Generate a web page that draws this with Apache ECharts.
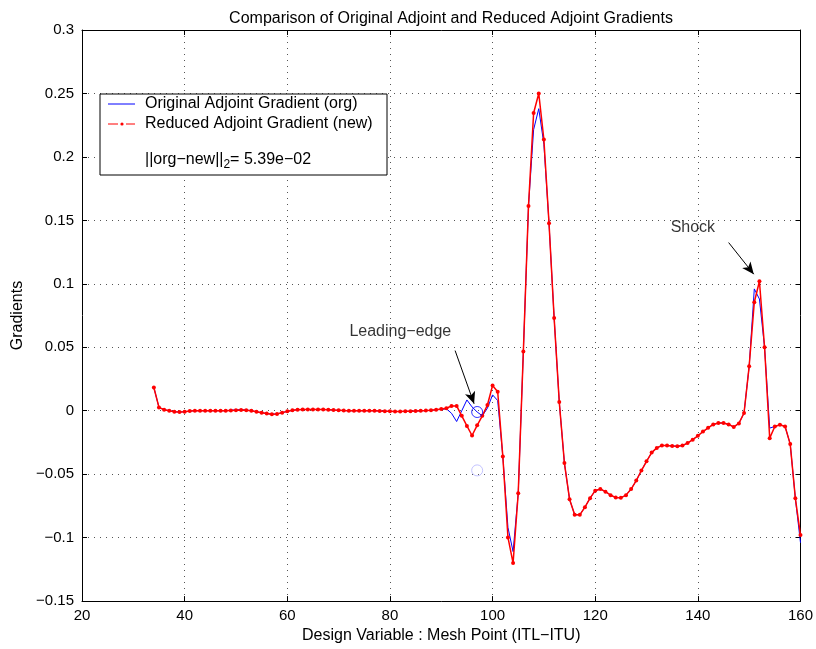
<!DOCTYPE html>
<html>
<head>
<meta charset="utf-8">
<script src="https://cdn.jsdelivr.net/npm/echarts@6/dist/echarts.min.js"></script>
<style>html,body{margin:0;padding:0;background:#fff}#c{width:816px;height:649px}</style>
</head>
<body>
<div id="c"></div>
<script>
// Design variable index (x) from 34 to 160
const meshPoints = [34,35,36,37,38,39,40,41,42,43,44,45,46,47,48,49,50,51,52,53,54,55,56,57,58,59,60,61,62,63,64,65,66,67,68,69,70,71,72,73,74,75,76,77,78,79,80,81,82,83,84,85,86,87,88,89,90,91,92,93,94,95,96,97,98,99,100,101,102,103,104,105,106,107,108,109,110,111,112,113,114,115,116,117,118,119,120,121,122,123,124,125,126,127,128,129,130,131,132,133,134,135,136,137,138,139,140,141,142,143,144,145,146,147,148,149,150,151,152,153,154,155,156,157,158,159,160];

// Reduced adjoint gradient (new) - red
const newGrad = [0.0183,0.0026,0.0008,0.0000,-0.0008,-0.0010,-0.0008,-0.0003,0.0000,0.0000,0.0000,0.0000,0.0000,0.0000,0.0000,0.0002,0.0003,0.0005,0.0003,0.0000,-0.0008,-0.0015,-0.0022,-0.0027,-0.0025,-0.0015,-0.0005,0.0003,0.0008,0.0010,0.0010,0.0010,0.0010,0.0010,0.0008,0.0005,0.0003,0.0001,0.0000,0.0000,0.0000,0.0000,0.0000,0.0000,-0.0002,-0.0004,-0.0005,-0.0006,-0.0006,-0.0005,-0.0004,-0.0002,0.0000,0.0001,0.0003,0.0008,0.0013,0.0020,0.0037,0.0038,-0.0040,-0.0120,-0.0195,-0.0115,-0.0040,0.0045,0.0199,0.0150,-0.0360,-0.0998,-0.1200,-0.0650,0.0466,0.1613,0.2346,0.2500,0.2137,0.1477,0.0730,0.0068,-0.0412,-0.0697,-0.0820,-0.0820,-0.0760,-0.0689,-0.0630,-0.0617,-0.0638,-0.0665,-0.0684,-0.0686,-0.0665,-0.0617,-0.0550,-0.0471,-0.0399,-0.0330,-0.0293,-0.0274,-0.0274,-0.0277,-0.0279,-0.0274,-0.0255,-0.0228,-0.0198,-0.0164,-0.0135,-0.0108,-0.0097,-0.0097,-0.0108,-0.0128,-0.0100,-0.0018,0.0350,0.0855,0.1020,0.0500,-0.0216,-0.0124,-0.0110,-0.0124,-0.0263,-0.0690,-0.0980];

// Original adjoint gradient (org) - blue
const orgGrad = [0.0183,0.0026,0.0008,0.0000,-0.0008,-0.0010,-0.0008,-0.0003,0.0000,0.0000,0.0000,0.0000,0.0000,0.0000,0.0000,0.0004,0.0008,0.0008,0.0006,0.0000,-0.0008,-0.0015,-0.0022,-0.0027,-0.0025,-0.0015,-0.0005,0.0003,0.0008,0.0010,0.0010,0.0010,0.0010,0.0010,0.0008,0.0005,0.0003,0.0001,0.0000,0.0000,0.0000,0.0000,0.0000,0.0000,-0.0002,-0.0004,-0.0005,-0.0006,-0.0006,-0.0005,-0.0004,-0.0002,0.0000,0.0001,0.0003,0.0008,0.0010,0.0015,-0.0020,-0.0085,0.0000,0.0085,0.0030,-0.0010,-0.0040,0.0020,0.0125,0.0080,-0.0360,-0.0920,-0.1110,-0.0650,0.0466,0.1613,0.2215,0.2380,0.2100,0.1477,0.0730,0.0068,-0.0412,-0.0697,-0.0820,-0.0820,-0.0760,-0.0689,-0.0630,-0.0617,-0.0638,-0.0665,-0.0684,-0.0686,-0.0665,-0.0617,-0.0550,-0.0471,-0.0399,-0.0330,-0.0293,-0.0274,-0.0274,-0.0277,-0.0279,-0.0274,-0.0255,-0.0228,-0.0198,-0.0164,-0.0135,-0.0108,-0.0097,-0.0097,-0.0108,-0.0128,-0.0100,-0.0018,0.0350,0.0960,0.0880,0.0500,-0.0137,-0.0124,-0.0110,-0.0124,-0.0263,-0.0690,-0.1040];

// Leading-edge markers
const leCircle = [[97, -0.001]];
const leCircleFaint = [[97, -0.047]];

// Annotation texts and arrows (data coords)
const annoTexts = [
  {name: 'Leading\u2212edge', value: [72.1, 0.062]},
  {name: 'Shock', value: [134.7, 0.1445]}
];
const annoArrows = [
  [[92.7, 0.0474], [96.4, 0.0055]],
  [[146.0, 0.1325], [150.9, 0.1076]]
];

const xTicks = {min: 20, max: 160, interval: 20};
const yTicks = {min: -0.15, max: 0.3, interval: 0.05};

const FONT = 'Liberation Sans, Arial, Helvetica, sans-serif';
const zip = (xs, ys) => xs.map((x, i) => [x, ys[i]]);
const fmt = v => String(+(+v).toFixed(2)).replace('-', '\u2212');

const chart = echarts.init(document.getElementById('c'), null, {renderer: 'canvas'});
const gridLine = {show: true, lineStyle: {color: '#555', type: [1, 5], width: 1}};
const axLine = {show: true, onZero: false, lineStyle: {color: '#000', width: 1}};

chart.setOption({
  animation: false,
  backgroundColor: '#fff',
  title: {
    text: 'Comparison of Original Adjoint and Reduced Adjoint Gradients',
    left: 446, top: 6, textAlign: 'center',
    textStyle: {fontFamily: FONT, fontSize: 16, fontWeight: 'normal', color: '#000'}
  },
  grid: {left: 82, right: 14, top: 30, bottom: 46},
  xAxis: [
    {type: 'value', position: 'bottom', ...xTicks,
     name: 'Design Variable : Mesh Point (ITL\u2212ITU)', nameLocation: 'middle', nameGap: 23,
     nameTextStyle: {fontFamily: FONT, fontSize: 16, color: '#000'},
     axisLine: axLine, axisTick: {inside: true, length: 5, lineStyle: {color: '#000'}},
     axisLabel: {fontFamily: FONT, fontSize: 15, color: '#000', margin: 7, formatter: fmt},
     splitLine: gridLine},
    {type: 'value', position: 'top', ...xTicks,
     axisLine: axLine, axisTick: {inside: true, length: 5, lineStyle: {color: '#000'}},
     axisLabel: {show: false}, splitLine: {show: false}}
  ],
  yAxis: [
    {type: 'value', position: 'left', ...yTicks,
     name: 'Gradients', nameLocation: 'middle', nameGap: 54,
     nameTextStyle: {fontFamily: FONT, fontSize: 16, color: '#000'},
     axisLine: axLine, axisTick: {inside: true, length: 5, lineStyle: {color: '#000'}},
     axisLabel: {fontFamily: FONT, fontSize: 15, color: '#000', margin: 8, formatter: fmt},
     splitLine: gridLine},
    {type: 'value', position: 'right', ...yTicks,
     axisLine: axLine, axisTick: {inside: true, length: 5, lineStyle: {color: '#000'}},
     axisLabel: {show: false}, splitLine: {show: false}}
  ],
  series: [
    {name: 'Original Adjoint Gradient (org)', type: 'line', data: zip(meshPoints, orgGrad),
     showSymbol: false, lineStyle: {color: '#0000ff', width: 1}, itemStyle: {color: '#0000ff'}, z: 3},
    {name: 'Reduced Adjoint Gradient (new)', type: 'line', data: zip(meshPoints, newGrad),
     symbol: 'circle', symbolSize: 4, lineStyle: {color: '#ff0000', width: 1.5},
     itemStyle: {color: '#ff0000'}, z: 4},
    {type: 'scatter', data: leCircle, symbol: 'circle', symbolSize: 11,
     itemStyle: {color: 'transparent', borderColor: '#0000ff', borderWidth: 1}, z: 5},
    {type: 'scatter', data: leCircleFaint, symbol: 'circle', symbolSize: 11,
     itemStyle: {color: 'transparent', borderColor: '#b4b4ff', borderWidth: 1}, z: 5},
    {type: 'scatter', data: annoTexts, symbolSize: 0, silent: true,
     label: {show: true, position: 'right', distance: 0, formatter: '{b}',
             fontFamily: FONT, fontSize: 16, color: '#000'}, z: 6,
     markLine: {silent: true, symbol: ['none', 'arrow'], symbolSize: [8, 12],
       lineStyle: {color: '#000', width: 1, type: 'solid'}, label: {show: false},
       data: annoArrows.map(a => [{coord: a[0]}, {coord: a[1]}])}}
  ],
  graphic: [
    {type: 'rect', shape: {x: 100, y: 94, width: 287, height: 81}, z: 100,
     style: {fill: '#fff', stroke: '#000', lineWidth: 1}},
    {type: 'line', shape: {x1: 108, y1: 104, x2: 135, y2: 104}, z: 101,
     style: {stroke: '#0000ff', lineWidth: 1}},
    {type: 'line', shape: {x1: 108, y1: 124, x2: 118, y2: 124}, z: 101,
     style: {stroke: '#ff0000', lineWidth: 1}},
    {type: 'line', shape: {x1: 126, y1: 124, x2: 135, y2: 124}, z: 101,
     style: {stroke: '#ff0000', lineWidth: 1}},
    {type: 'circle', shape: {cx: 122, cy: 124, r: 1.6}, z: 101, style: {fill: '#ff0000'}},
    {type: 'text', x: 145, y: 104, z: 101,
     style: {text: 'Original Adjoint Gradient (org)', fontFamily: FONT, fontSize: 16, fill: '#000', verticalAlign: 'middle'}},
    {type: 'text', x: 145, y: 124, z: 101,
     style: {text: 'Reduced Adjoint Gradient (new)', fontFamily: FONT, fontSize: 16, fill: '#000', verticalAlign: 'middle'}},
    {type: 'text', x: 145, y: 160, z: 101,
     style: {text: '||org\u2212new||{s|2}= 5.39e\u221202', fontFamily: FONT, fontSize: 16, fill: '#000', verticalAlign: 'middle',
       rich: {s: {fontFamily: FONT, fontSize: 12, fill: '#000', padding: [9, 0, 0, 0]}}}}
  ]
});
</script>
</body>
</html>
